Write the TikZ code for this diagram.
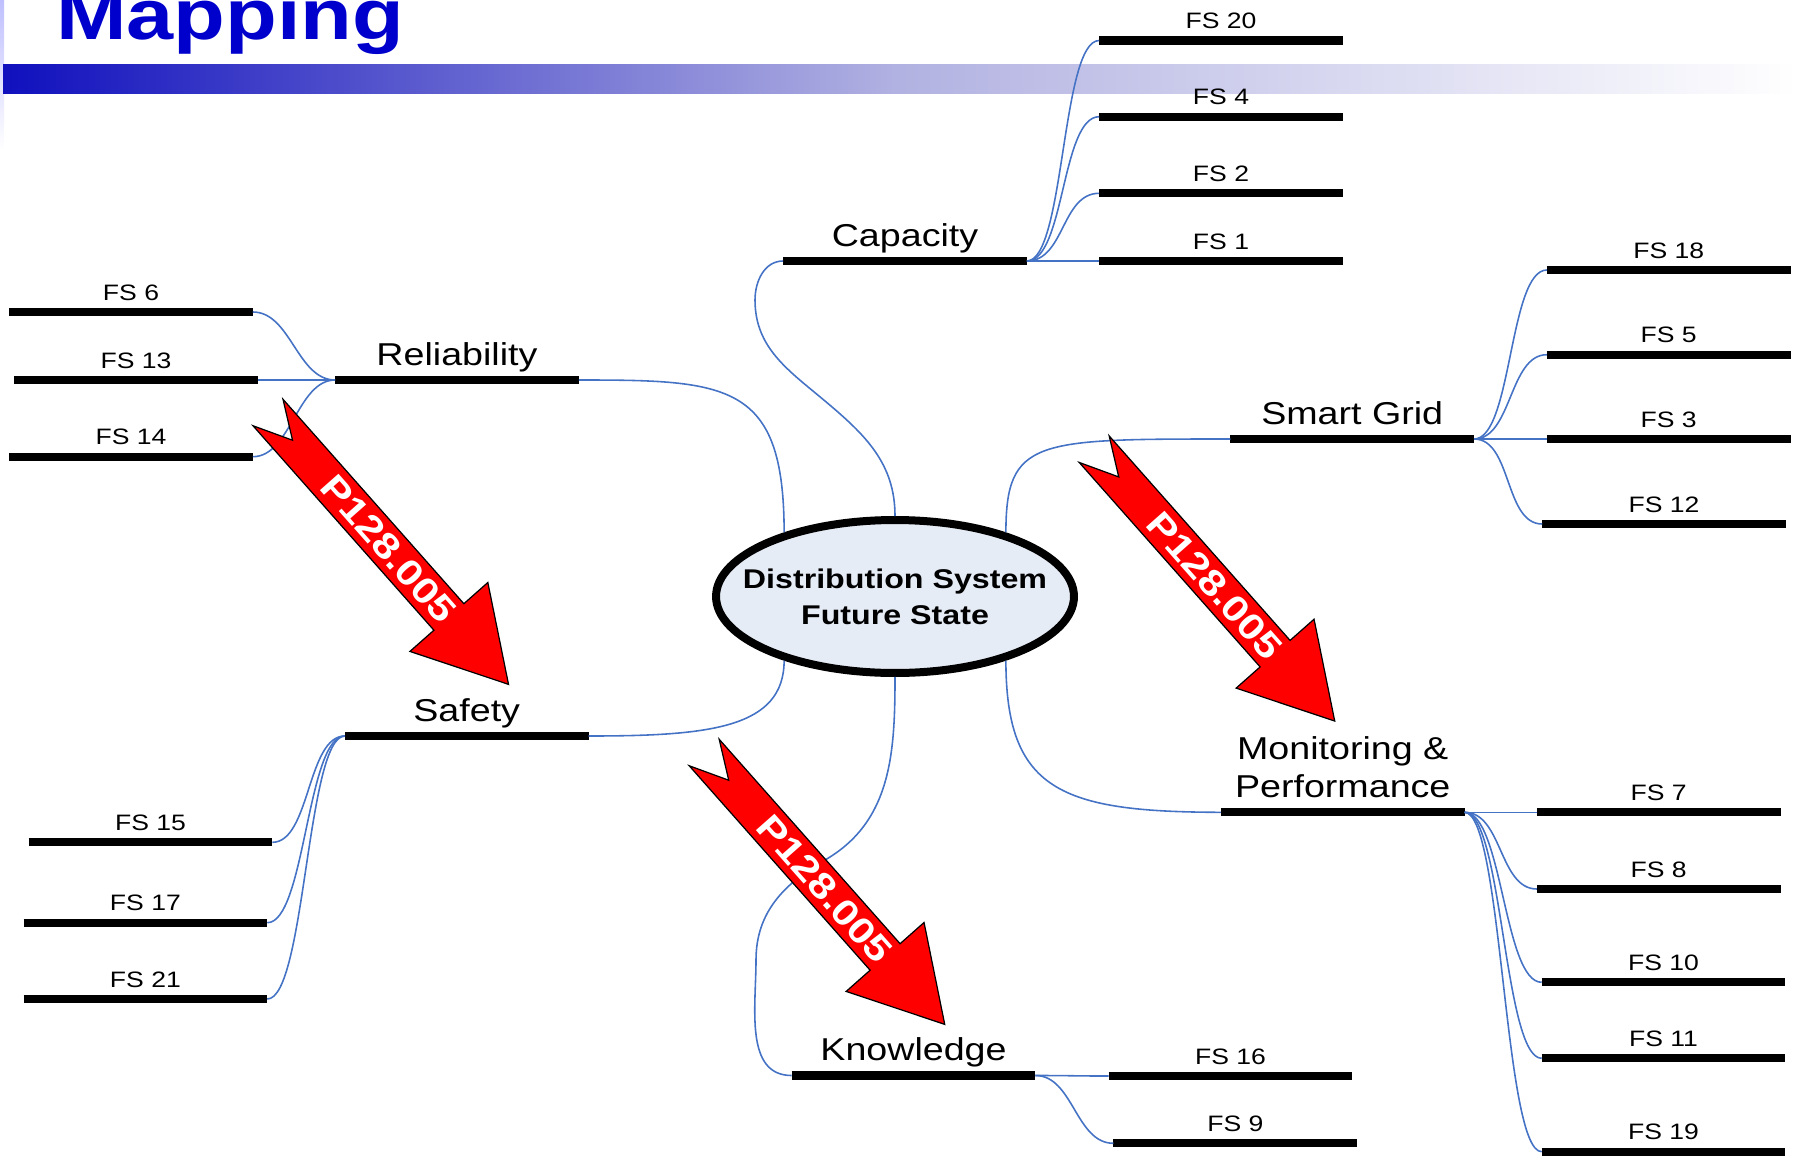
\documentclass[tikz,border=0pt]{standalone}
\usepackage{fontspec}
\setmainfont{Liberation Sans}[FakeStretch=1.19]
\usepackage{tikz}
\usetikzlibrary{shapes.geometric}
\definecolor{titleblue}{RGB}{0,0,204}
\definecolor{barleft}{RGB}{16,16,190}
\definecolor{barmid}{RGB}{178,178,226}
\definecolor{linkblue}{RGB}{68,114,196}
\definecolor{hubfill}{RGB}{230,236,246}
\newcommand{\leaffont}{\fontsize{12.7}{15}\selectfont}
\newcommand{\branchfont}{\fontsize{18}{21.6}\selectfont}
\newcommand{\hubfont}{\bfseries\fontsize{15.4}{20.5}\selectfont}
\newcommand{\tagfont}{\bfseries\fontsize{20.5}{24}\selectfont}

% roter Blockpfeil mit Kerbe: #1 = Startpunkt, #2 = Name des Textknotens
\newcommand{\pfeil}[2]{%
	\begin{scope}[shift={#1}, rotate=-48.5]
		\draw[fill=red, line width=0.7pt]
			(0,20) -- (273,20) -- (273,52) -- (363,0) -- (273,-52) -- (273,-20) -- (0,-20) -- (37,0) -- cycle;
		\node[rotate=-48.5, text=white, font=\tagfont, inner sep=0pt] (#2) at (182,0) {P128.005};
	\end{scope}}

\begin{document}
\begin{tikzpicture}[x=0.02cm, y=-0.02cm,
		leaf/.style={minimum width=4.86cm, inner xsep=0pt, inner ysep=6.6pt, text depth=0pt,
			anchor=south, font=\leaffont,
			append after command={(\tikzlastnode.south west) edge[barline] (\tikzlastnode.south east)}},
		branch/.style={leaf, inner ysep=8.1pt, font=\branchfont, align=center},
		barline/.style={draw=black, line width=4.7pt},
		link/.style={draw=linkblue, line width=0.9pt},
		twig/.style={link, out=0, in=180, distance=0.76cm}]
	\useasboundingbox (0,0) rectangle (1797,1159);
	\clip (0,0) rectangle (1797,1159);
	
	% Kopfzeile
	\shade[top color=blue!25, bottom color=white] (0,0) rectangle (4,150);
	\shade[left color=barleft, right color=white, middle color=barmid] (3,65) rectangle (1797,94);
	\node[anchor=base west, inner sep=0pt, text=titleblue,
	font=\bfseries\fontsize{40.5}{48}\selectfont] (title) at (56,40) {Mapping};
	
	% Zentrum
	\node[ellipse, draw=black, line width=4.55pt, fill=hubfill, minimum width=7.16cm,
	minimum height=3.06cm, inner sep=0pt] (hub) at (895,596.5) {};
	\node[font=\hubfont, align=center] (hubtext) at (hub) {Distribution System\\Future State};
	
	% Aeste
	\node[branch] (cap) at (905,261) {Capacity};
	\node[branch] (rel) at (457,380) {Reliability};
	\node[branch] (saf) at (466.7,736) {Safety};
	\node[branch] (know) at (913.5,1075.5) {Knowledge};
	\node[branch] (sg) at (1352.2,439) {Smart Grid};
	\node[branch] (mon) at (1342.7,812.3) {Monitoring \&\\Performance};
	
	% Blaetter
	\foreach \n/\x/\y in {20/1221/40.5, 4/1221/116.7, 2/1221/193.3, 1/1221/261,
		6/131/312, 13/136/380, 14/131/456.7,
		15/150.5/842.3, 17/145.4/922.7, 21/145.4/999,
		16/1230.5/1076, 9/1235.3/1143.3,
		18/1668.7/270, 5/1668.7/354.7, 3/1668.7/439, 12/1664/524,
		7/1658.7/812.3, 8/1658.7/889, 10/1663.5/982.3, 11/1663.5/1058.3, 19/1663.5/1151.7}
		\node[leaf] (fs\n) at (\x,\y) {FS \n};
	
	% Verbindungen Zentrum -- Aeste
	\draw[link] (hub.north) to[out=90,in=-40] (825,401) to[out=140,in=-90] (755,300)
		to[out=90,in=180] (cap.south west);
	\draw[link] (hub.150) .. controls (784,383) and (729,380) .. (rel.south east);
	\draw[link] (hub.210) .. controls (784,728) and (710,736) .. (saf.south east);
	\draw[link] (hub.south) to[out=-90,in=30] (825,860) to[out=210,in=90] (756,960)
		to[out=-90,in=180] (know.south west);
	\draw[link] (hub.30) .. controls (1006,439) and (1035,439) .. (sg.south west);
	\draw[link] (hub.330) .. controls (1006,790) and (1060,812) .. (mon.south west);
	
	% Verbindungen Aeste -- Blaetter
	\foreach \f in {fs20,fs4,fs2,fs1} \draw[twig] (cap.south east) to (\f.south west);
	\foreach \f in {fs6,fs13,fs14} \draw[twig] (\f.south east) to (rel.south west);
	\foreach \f in {fs15,fs17,fs21} \draw[twig] (\f.south east) to (saf.south west);
	\foreach \f in {fs16,fs9} \draw[twig] (know.south east) to (\f.south west);
	\foreach \f in {fs18,fs5,fs3,fs12} \draw[twig] (sg.south east) to (\f.south west);
	\foreach \f in {fs7,fs8,fs10,fs11,fs19} \draw[twig] (mon.south east) to (\f.south west);
	
	% Pfeile
	\pfeil{(268,412.5)}{tagsafe}
	\pfeil{(704.2,752.5)}{tagknow}
	\pfeil{(1094.2,449.2)}{tagmon}
\end{tikzpicture}
\end{document}
